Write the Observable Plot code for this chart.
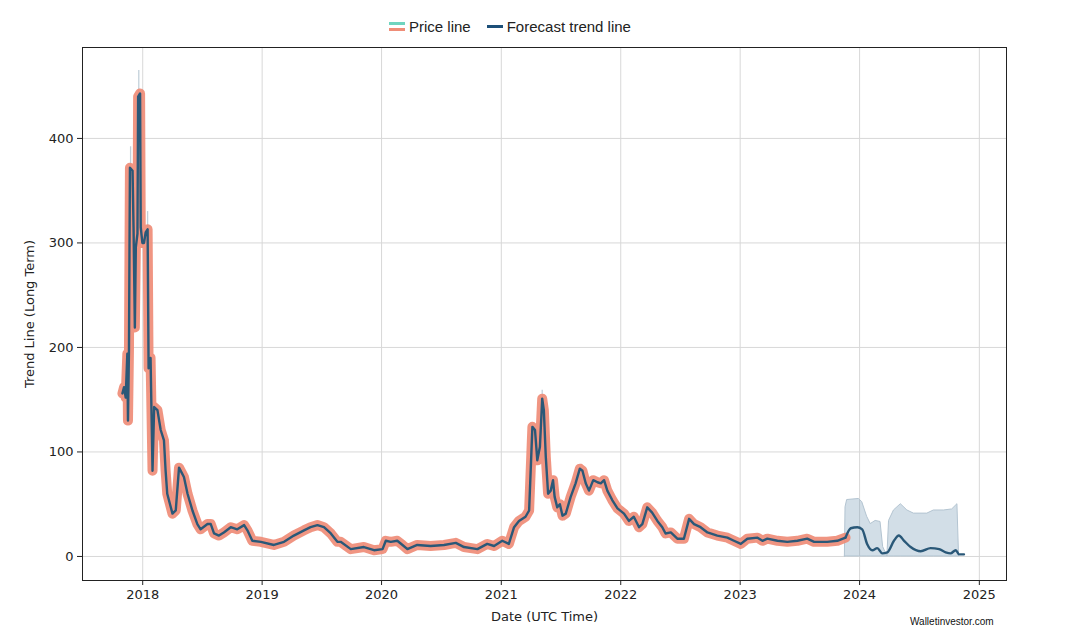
<!DOCTYPE html>
<html>
<head>
<meta charset="utf-8">
<script src="https://cdn.jsdelivr.net/npm/d3@7"></script>
<script src="https://cdn.jsdelivr.net/npm/@observablehq/plot@0.6"></script>
<style>
  html, body { margin: 0; padding: 0; background: #fff; }
  #wrap { position: relative; width: 1072px; height: 636px; overflow: hidden; }
  #legend { position: absolute; top: 18px; left: 389px; display: flex; align-items: center; font-family: "Liberation Sans", Arial, sans-serif; font-size: 15px; color: #222; white-space: nowrap; }
  .sw { display: inline-block; width: 16px; margin-right: 4px; }
  .item { display: flex; align-items: center; margin-right: 16px; }
  #credit { position: absolute; left: 910px; top: 616px; font-family: "Liberation Sans", Arial, sans-serif; font-size: 10px; color: #111; }
</style>
</head>
<body>
<div id="wrap">
  <div id="chart"></div>
  <div id="legend">
    <div class="item">
      <span class="sw"><span style="display:block;height:3px;background:#6fd4bf;margin-bottom:3px"></span><span style="display:block;height:3px;background:#ef8d78"></span></span>
      <span>Price line</span>
    </div>
    <div class="item">
      <span class="sw"><span style="display:block;height:3px;background:#1c4f78"></span></span>
      <span>Forecast trend line</span>
    </div>
  </div>
  <div id="credit">Walletinvestor.com</div>
</div>
<script>
// Historical price (date, value)
const priceDates = ["2017-10-31","2017-11-05","2017-11-10","2017-11-15","2017-11-17","2017-11-20","2017-11-23","2017-12-01","2017-12-04","2017-12-08","2017-12-11","2017-12-16","2017-12-18","2017-12-24","2017-12-26","2017-12-31","2018-01-05","2018-01-10","2018-01-16","2018-01-19","2018-01-25","2018-01-31","2018-02-05","2018-02-15","2018-02-25","2018-03-07","2018-03-12","2018-03-17","2018-04-02","2018-04-12","2018-04-22","2018-05-02","2018-05-07","2018-05-18","2018-06-02","2018-06-17","2018-06-27","2018-07-18","2018-07-28","2018-08-07","2018-08-22","2018-09-06","2018-09-27","2018-10-17","2018-11-07","2018-11-17","2018-12-02","2018-12-28","2019-02-06","2019-03-09","2019-04-08","2019-05-09","2019-05-29","2019-06-19","2019-07-09","2019-07-30","2019-08-19","2019-08-29","2019-09-29","2019-11-08","2019-12-09","2020-01-04","2020-01-14","2020-01-29","2020-02-18","2020-03-05","2020-03-20","2020-04-19","2020-05-30","2020-07-10","2020-08-15","2020-09-09","2020-10-20","2020-11-19","2020-12-10","2021-01-04","2021-01-24","2021-02-09","2021-02-24","2021-03-16","2021-03-27","2021-04-06","2021-04-14","2021-04-21","2021-04-29","2021-05-06","2021-05-11","2021-05-17","2021-05-24","2021-06-01","2021-06-08","2021-06-13","2021-06-21","2021-06-29","2021-07-07","2021-07-17","2021-08-01","2021-08-16","2021-08-29","2021-09-06","2021-09-16","2021-09-26","2021-10-09","2021-10-22","2021-11-01","2021-11-11","2021-11-21","2021-12-06","2021-12-22","2022-01-11","2022-01-26","2022-02-10","2022-02-26","2022-03-08","2022-03-23","2022-04-07","2022-04-23","2022-05-08","2022-05-18","2022-06-03","2022-06-23","2022-07-13","2022-07-29","2022-08-13","2022-09-02","2022-09-23","2022-10-23","2022-11-23","2022-12-13","2023-01-03","2023-01-23","2023-02-23","2023-03-10","2023-03-25","2023-04-25","2023-05-25","2023-06-25","2023-07-25","2023-08-15","2023-09-24","2023-10-25","2023-11-19"];
const priceValues = [156,162,152,194,130,197,372,369,315,219,296,309,440,443,315,300,300,310,313,180,190,82,143,140,121,111,82,60,41,44,85,79,76,60,44,31,26,31,31,22,20,23,28,26,30,25,15,14,11,14,20,25,28,30,28,22,14,14,7,9,6,7,15,14,15,11,7,11,10,11,13,9,7,12,10,15,12,28,34,38,44,124,121,92,105,151,140,95,60,63,73,57,47,50,39,41,57,70,84,82,70,63,73,71,70,73,63,54,46,41,34,38,28,31,47,42,34,28,22,23,17,17,36,31,28,23,20,18,15,12,17,18,15,17,15,14,15,17,14,14,15,18];

// Forecast trend (date, value)
const forecastDates = ["2023-11-19","2023-12-05","2023-12-25","2024-01-09","2024-01-24","2024-02-09","2024-02-24","2024-03-10","2024-03-26","2024-04-15","2024-04-30","2024-05-16","2024-06-05","2024-07-06","2024-08-05","2024-08-31","2024-09-20","2024-10-05","2024-10-21","2024-10-31","2024-11-15"];
const forecastValues = [18,27,28,26,12,6,8,3,4,15,20,15,9,5,8,7,4,3,6,2,2];

// Forecast band upper bound (lower bound is 0)
const bandDates = ["2023-11-17","2023-11-19","2023-11-24","2023-12-30","2024-01-09","2024-01-24","2024-02-04","2024-02-19","2024-03-05","2024-03-13","2024-03-26","2024-03-31","2024-04-15","2024-05-06","2024-05-26","2024-06-15","2024-07-26","2024-08-15","2024-09-15","2024-10-10","2024-10-26","2024-10-31"];
const bandUpper = [0,47,54,55,52,38,31,34,33,9,0,34,44,50,44,41,41,44,44,45,50,0];

// Thin high spikes in history
const spikeDates = ["2017-11-25","2017-12-20","2018-01-16","2021-05-06"];
const spikeLow = [300,400,280,130];
const spikeHigh = [392,465,330,159];

const yearTicks = [2018,2019,2020,2021,2022,2023,2024,2025];
const yTicks = [0,100,200,300,400];

const P = d => new Date(d + "T00:00:00Z");
const price = priceDates.map((d, i) => ({date: P(d), value: priceValues[i]}));
const forecast = forecastDates.map((d, i) => ({date: P(d), value: forecastValues[i]}));
const band = bandDates.map((d, i) => ({date: P(d), hi: bandUpper[i], lo: 0}));
const spikes = spikeDates.map((d, i) => ({date: P(d), lo: spikeLow[i], hi: spikeHigh[i]}));
const xt = yearTicks.map(y => new Date(Date.UTC(y, 0, 1)));

const chart = Plot.plot({
  width: 1072,
  height: 636,
  marginLeft: 82,
  marginRight: 66,
  marginTop: 47,
  marginBottom: 56,
  style: {fontFamily: "DejaVu Sans, sans-serif", fontSize: "13px", color: "#222", background: "#fff"},
  x: {type: "utc", domain: [P("2017-07-01"), P("2025-03-25")]},
  y: {domain: [-23, 487]},
  marks: [
    Plot.gridX(xt, {stroke: "#d8d8d8", strokeOpacity: 1}),
    Plot.gridY(yTicks, {stroke: "#d8d8d8", strokeOpacity: 1}),
    Plot.areaY(band, {x: "date", y1: "lo", y2: "hi", fill: "#6a92b0", fillOpacity: 0.3, stroke: "#b3c4d1", strokeWidth: 1}),
    Plot.ruleX(spikes, {x: "date", y1: "lo", y2: "hi", stroke: "#c3d0da", strokeWidth: 1.3}),
    Plot.line(price, {x: "date", y: "value", stroke: "#ee8a74", strokeOpacity: 0.9, strokeWidth: 10, strokeLinejoin: "round", strokeLinecap: "round"}),
    Plot.line(price, {x: "date", y: "value", stroke: "#2a5878", strokeWidth: 2.4, strokeLinejoin: "round"}),
    Plot.line(forecast, {x: "date", y: "value", stroke: "#2a5878", strokeWidth: 2.4, curve: "monotone-x"}),
    Plot.axisX(xt, {tickFormat: d3.utcFormat("%Y"), tickSize: 5, tickPadding: 4, fontSize: 13, label: "Date (UTC Time)", labelAnchor: "center", labelOffset: 40, labelArrow: "none"}),
    Plot.axisY(yTicks, {tickSize: 5, tickPadding: 4, fontSize: 13, label: "Trend Line (Long Term)", labelAnchor: "center", labelOffset: 58, labelArrow: "none"}),
    Plot.frame({stroke: "#222", strokeWidth: 1})
  ]
});
document.getElementById("chart").appendChild(chart);
</script>
</body>
</html>
